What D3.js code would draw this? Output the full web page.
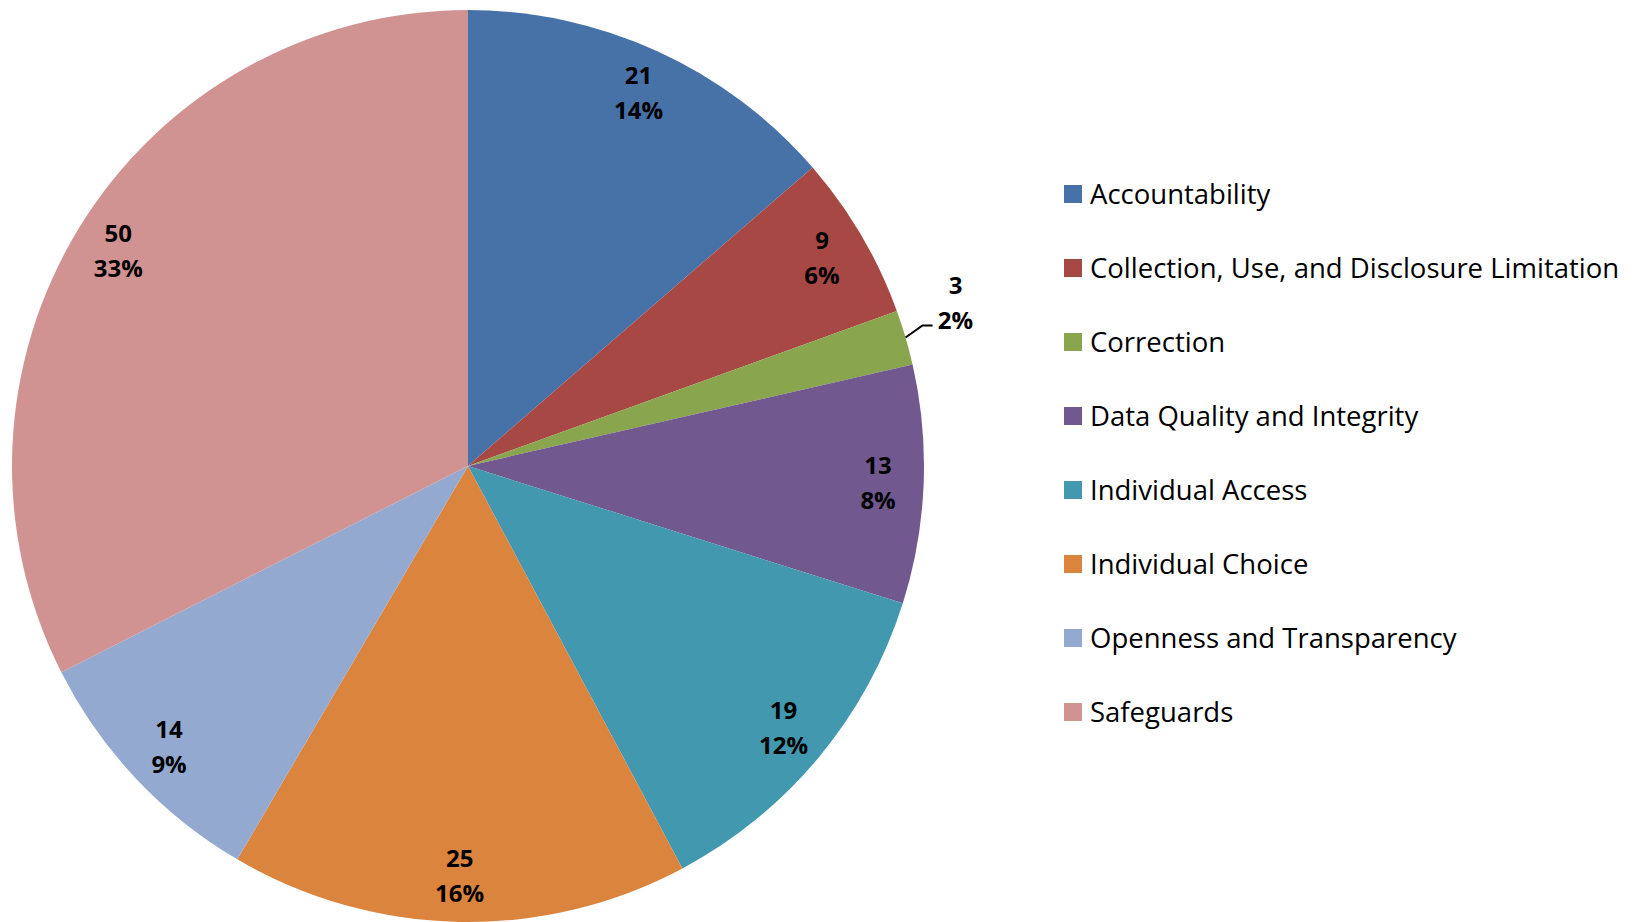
<!DOCTYPE html>
<html>
<head>
<meta charset="utf-8">
<script src="https://cdn.jsdelivr.net/npm/d3@7"></script>
<style>
  body { margin: 0; background: #fff; }
  svg text { font-family: "Open Sans", "Noto Sans", sans-serif; }
</style>
</head>
<body>
<svg id="chart" width="1644" height="922"></svg>
<script>
// data
var categories = ["Accountability", "Collection, Use, and Disclosure Limitation", "Correction",
                  "Data Quality and Integrity", "Individual Access", "Individual Choice",
                  "Openness and Transparency", "Safeguards"];
var counts = [21, 9, 3, 13, 19, 25, 14, 50];
var percentLabels = ["14%", "6%", "2%", "8%", "12%", "16%", "9%", "33%"];
var colors = ["#4672A8", "#A84845", "#89A54E", "#71588F", "#4198AF", "#DB843D", "#93A9CF", "#D19392"];

var width = 1644,
    height = 922,
    cx = 468,
    cy = 466,
    radius = 456;

var svg = d3.select("#chart");

var color = d3.scaleOrdinal().domain(categories).range(colors);

var pie = d3.pie().value(function(d) { return d.count; }).sort(null);
var arc = d3.arc().innerRadius(0).outerRadius(radius);
var labelArc = d3.arc().innerRadius(radius * 0.9).outerRadius(radius * 0.9);

var rows = categories.map(function(c, i) {
    return { name: c, count: counts[i], pct: percentLabels[i] };
});
var arcs = pie(rows);

var g = svg.append("g").attr("transform", "translate(" + cx + "," + cy + ")");

g.selectAll("path.slice").data(arcs).enter()
    .append("path")
    .attr("class", "slice")
    .attr("d", arc)
    .style("fill", function(d) { return color(d.data.name); });

// labels: small slices go outside with a leader line
var labels = g.selectAll("g.lbl").data(arcs).enter()
    .append("g")
    .attr("class", "lbl")
    .attr("transform", function(d) {
        var p;
        if (d.data.count < 5) {
            var a = (d.startAngle + d.endAngle) / 2;
            p = [Math.sin(a) * radius + 50, -Math.cos(a) * radius - 35];
        } else {
            p = labelArc.centroid(d);
        }
        return "translate(" + p[0] + "," + p[1] + ")";
    });

labels.append("text")
    .attr("text-anchor", "middle")
    .attr("y", -9)
    .style("font-size", "24px")
    .style("font-weight", "bold")
    .text(function(d) { return d.data.count; });

labels.append("text")
    .attr("text-anchor", "middle")
    .attr("y", 26)
    .style("font-size", "24px")
    .style("font-weight", "bold")
    .text(function(d) { return d.data.pct; });

arcs.filter(function(d) { return d.data.count < 5; }).forEach(function(d) {
    var a = (d.startAngle + d.endAngle) / 2;
    var x0 = Math.sin(a) * radius, y0 = -Math.cos(a) * radius;
    g.append("path")
        .attr("d", "M" + x0 + "," + y0 + "L" + (x0 + 17) + "," + (y0 - 12) + "L" + (x0 + 27) + "," + (y0 - 12))
        .style("fill", "none")
        .style("stroke", "#000")
        .style("stroke-width", 2);
});

// legend
var legendY = d3.scalePoint().domain(categories).range([194, 712]);

var legend = svg.selectAll("g.legend").data(categories).enter()
    .append("g")
    .attr("class", "legend")
    .attr("transform", function(d) { return "translate(1064," + legendY(d) + ")"; });

legend.append("rect")
    .attr("x", 0)
    .attr("y", -9)
    .attr("width", 18)
    .attr("height", 18)
    .style("fill", function(d) { return color(d); });

legend.append("text")
    .attr("x", 26)
    .attr("y", 10)
    .style("font-size", "27.5px")
    .text(function(d) { return d; });
</script>
</body>
</html>
